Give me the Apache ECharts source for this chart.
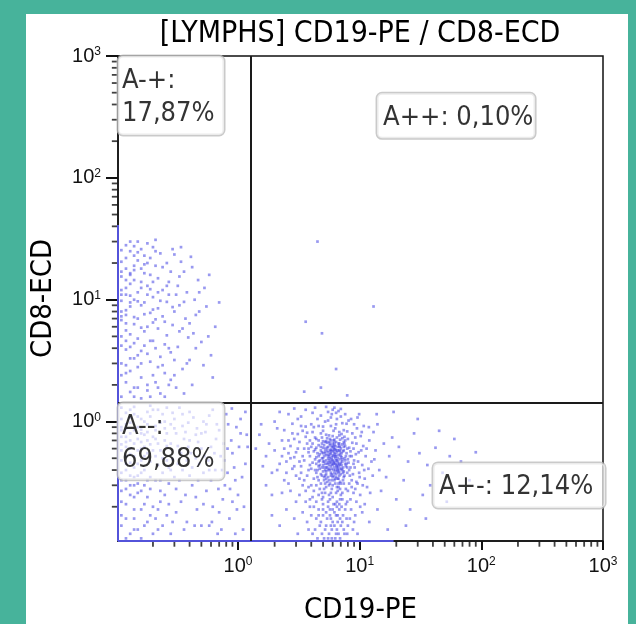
<!DOCTYPE html>
<html><head><meta charset="utf-8">
<script src="https://cdn.jsdelivr.net/npm/echarts@6/dist/echarts.min.js"></script>
<style>
html,body{margin:0;padding:0;background:#47b39b;width:636px;height:624px;overflow:hidden}
#panel{position:absolute;left:26px;top:14px;width:602px;height:610px;background:#fff}
#chart{width:602px;height:610px}
</style></head><body><div id="panel"><div id="chart"></div></div>
<script>
const titleText = '[LYMPHS] CD19-PE / CD8-ECD';
const xAxisName = 'CD19-PE';
const yAxisName = 'CD8-ECD';
const xRange = [0.1032, 1000];
const yRange = [0.1047, 1000];
const majorTicks = [1, 10, 100, 1000];
const minorTicks = [0.2,0.3,0.4,0.5,0.6,0.7,0.8,0.9,2,3,4,5,6,7,8,9,20,30,40,50,60,70,80,90,200,300,400,500,600,700,800,900];
const gateX = 1.28;
const gateY = 1.43;
const quadrantNames = ['A-+:', 'A++:', 'A--:', 'A+-:'];
const quadrantPercents = ['17,87%', '0,10%', '69,88%', '12,14%'];
const quadrantLabelAt = [[0.1032, 1000], [13.9, 494], [0.1032, 1.43], [40.1, 0.458]];

// events piled on the axis minimum (left and bottom edges)
const leftEdgeEvents = [[0.1032, 0.1047], [0.1032, 41]];
const bottomEdgeEvents = [[0.1032, 0.1047], [19, 0.1047]];

// A+- : CD19+ cluster
const bCells = [
[5.2,0.45],[6.1,0.52],[5.8,0.38],[6.6,0.41],[4.9,0.56],[7.2,0.47],[5.5,0.62],[6.3,0.34],[4.6,0.43],[7.8,0.55],[5.9,0.49],[6.8,0.36],[5.1,0.33],[6.0,0.66],[7.4,0.39],[4.4,0.51],[5.6,0.44],[6.4,0.58],[7.0,0.31],[5.3,0.69],[6.2,0.42],[4.8,0.37],[8.1,0.46],[5.7,0.54],[6.9,0.49],[5.0,0.61],[6.5,0.29],[7.6,0.63],[4.5,0.40],[5.4,0.32],[6.7,0.53],[5.8,0.70],[7.1,0.44],[4.7,0.48],[6.0,0.35],[5.2,0.57],[6.3,0.63],[7.9,0.38],[5.6,0.30],[6.6,0.45],[4.9,0.42],[7.3,0.57],[5.5,0.50],[6.1,0.40],[4.3,0.59],[5.9,0.33],[6.8,0.66],[5.0,0.47],[7.5,0.50],[6.2,0.55],[5.3,0.39],[4.6,0.64],[6.4,0.37],[7.0,0.60],[5.7,0.46],[6.9,0.32],[5.1,0.52],[8.3,0.52],[6.0,0.44],[5.4,0.67],[6.5,0.48],[4.8,0.31],[7.7,0.43],[5.8,0.59],[6.6,0.34],[5.2,0.36],[7.2,0.65],[4.4,0.45],[6.3,0.50],[5.6,0.41],[6.1,0.61],[7.4,0.35],[5.0,0.39],[6.7,0.43],[5.5,0.56],[4.7,0.54],[6.4,0.68],[7.1,0.51],[5.9,0.37],[6.2,0.46],[5.3,0.48],[6.8,0.58],[4.5,0.35],[7.9,0.60],[5.7,0.64],[6.5,0.39],[5.1,0.42],[6.0,0.30],[7.3,0.42],[5.4,0.45],[6.9,0.54],[4.9,0.66],[5.8,0.43],[6.3,0.40],[7.6,0.48],[5.2,0.60],[6.6,0.62],[4.6,0.47],[5.5,0.35],[6.1,0.57],[7.0,0.37],[5.9,0.51],[6.7,0.31],[5.0,0.55],[6.4,0.44],[5.6,0.68],[7.2,0.40],[4.8,0.58],[6.2,0.33],[5.3,0.53],[6.0,0.48],[7.8,0.45],[5.7,0.40],[6.5,0.56],[4.4,0.38],[6.8,0.45],[5.1,0.64],[5.8,0.47],[6.3,0.59],[7.4,0.62],[5.4,0.42],[6.9,0.41],[4.7,0.41],[6.1,0.36],[5.6,0.52],[7.1,0.55],[6.6,0.50],[5.2,0.40],[5.9,0.62],[6.4,0.52],[4.9,0.50],[7.5,0.36],[5.5,0.46],[6.2,0.67],[6.7,0.38],[5.0,0.44],[6.0,0.58],[5.3,0.34],[7.0,0.46],[5.8,0.55],[6.5,0.43],[4.6,0.52],[6.9,0.62],[5.7,0.50],[6.3,0.45],
[3.4,0.52],[3.9,0.44],[3.1,0.60],[2.8,0.41],[3.6,0.75],[4.1,0.82],[2.6,0.55],[3.3,0.38],[4.0,0.30],[3.7,0.66],[2.9,0.72],[3.2,0.47],[4.2,0.90],[3.5,0.33],[2.7,0.63],[3.8,0.56],[3.0,0.36],[4.3,0.74],[3.4,0.84],[2.5,0.47],[3.6,0.27],[3.1,0.79],[4.0,0.62],[2.9,0.51],[3.8,0.40],[9.0,0.48],[9.8,0.56],[8.8,0.37],[10.5,0.44],[9.4,0.66],[11.2,0.52],[8.6,0.29],[10.0,0.35],[9.2,0.74],[11.8,0.41],[8.9,0.60],[10.7,0.63],[9.6,0.31],[12.5,0.47],[8.7,0.80],[10.2,0.76],[9.1,0.42],[11.0,0.34],[5.3,0.78],[6.1,0.84],[5.8,0.92],[6.8,0.77],[7.4,0.85],[4.8,0.80],[5.5,1.02],[6.4,0.95],[7.0,1.10],[5.0,0.91],[6.7,1.22],[5.9,1.15],[7.8,0.96],[4.5,1.05],[6.2,1.30],[8.0,0.72],[7.5,0.75],[4.6,0.25],[5.2,0.26],[6.0,0.24],[6.6,0.27],[7.2,0.26],[5.5,0.22],[6.3,0.21],[4.9,0.23],[7.7,0.28],[5.8,0.26],[6.9,0.23],[5.1,0.28],[8.2,0.31],[4.2,0.27],[3.6,0.91],[2.4,0.85],[3.3,1.10],[2.8,0.96],[4.1,1.18],[3.9,0.23],[3.2,0.25],[2.6,0.31],[9.5,0.88],[10.8,0.92],[8.5,1.05],[9.9,1.15],[12.0,0.70],[11.5,0.29],[10.1,0.25],[8.4,0.23],[2.2,0.45],[2.0,0.58],[2.3,0.70],[1.9,0.38],[2.1,0.88],[1.7,0.52],[1.8,0.66],[2.4,0.33],[1.6,0.43],[1.5,0.78],[2.0,1.00],[1.4,0.60],[1.7,0.30],[2.2,1.20],[1.55,0.95],[1.9,0.25],[13.5,0.58],[14.5,0.40],[15.8,0.66],[13.0,0.82],[16.5,0.35],[14.0,0.95],[17.5,0.52],[15.0,0.27],[13.8,1.15],[18.5,0.74],
[5.5,0.20],[6.2,0.18],[5.0,0.17],[6.8,0.19],[5.8,0.16],[4.6,0.19],[7.3,0.17],[6.0,0.15],[5.3,0.14],[6.5,0.13],[4.8,0.15],[7.0,0.14],[5.6,0.12],[6.3,0.11],[4.3,0.13],[7.8,0.16],[5.1,0.11],[6.7,0.12],[5.9,0.13],[4.0,0.17],[8.5,0.19],[3.7,0.15],[7.5,0.12],[6.1,0.21],[5.4,0.16],[4.5,0.11],[6.9,0.16],[5.7,0.19],[8.0,0.14],[3.9,0.20],[9.2,0.17],[4.1,0.12],[6.4,0.17],[5.2,0.13],[7.1,0.20],[3.4,0.18],[8.8,0.13],[5.0,0.21],[6.6,0.15],[4.7,0.14],[2.9,0.16],[10.5,0.18],[3.1,0.12],[9.6,0.12],[2.5,0.19],[12.0,0.15],[2.2,0.14],[11.0,0.21],[1.9,0.17],[14.0,0.19],
[21,0.62],[25,0.47],[31,0.55],[23,0.33],[28,0.80],[36,0.44],[19,1.20],[42,0.61],[33,0.25],[48,0.38],[26,0.19],[55,0.52],[38,0.30],[68,0.47],[20,0.23],[45,0.84],[80,0.33],[30,1.05],[24,0.14],[60,0.72],[90,0.56],[17,0.13],[52,0.22],[35,0.16],
[4.4,0.72],[5.0,0.84],[5.6,0.77],[6.3,0.88],[7.1,0.79],[7.9,0.83],[4.1,0.66],[3.8,0.60],[3.5,0.48],[3.3,0.43],[3.7,0.36],[4.0,0.41],[4.2,0.34],[3.9,0.52],[4.3,0.49],[8.6,0.52],[8.4,0.42],[8.9,0.45],[9.3,0.54],[8.2,0.61],[8.7,0.67],[9.7,0.47],[10.3,0.58],[7.6,0.70],[7.2,0.73],[6.9,0.71],[6.5,0.74],[6.0,0.76],[5.4,0.73],[4.9,0.74],[4.6,0.70],[5.2,0.68],[5.7,0.72],[6.2,0.71],[6.8,0.82],[7.4,0.68],[4.0,0.95],[4.6,0.92],[5.2,1.00],[5.8,1.08],[6.5,1.05],[7.2,0.97],[8.1,1.02],[5.5,1.20],[6.0,1.25],[7.0,1.27],[4.8,1.12],[5.3,1.32],[6.4,1.18],[7.6,1.15],[3.4,0.30],[3.8,0.29],[4.4,0.30],[4.1,0.24],[4.7,0.28],[5.3,0.29],[5.9,0.28],[6.7,0.29],[7.4,0.31],[8.0,0.27],[8.6,0.33],[9.2,0.28],[7.0,0.25],[6.4,0.26],[5.6,0.25],[4.9,0.26],[4.4,0.22],[5.0,0.24],[5.7,0.23],[6.5,0.22],[7.2,0.23],[7.9,0.22],[3.6,0.22],[3.2,0.34],[2.9,0.43],[2.7,0.50],[3.0,0.56],[3.2,0.68],[2.8,0.80],[2.6,0.70],[2.4,0.60],[2.5,0.38],[2.3,0.52],[2.1,0.40],[2.7,0.27],[2.3,0.26],[3.0,0.22],[3.5,0.60],[3.7,0.81],[3.3,0.92],[3.1,1.05],[2.6,1.15],[2.9,1.28],[3.6,1.25],[4.3,1.30],[9.0,0.95],[9.6,1.08],[10.4,0.82],[11.4,0.60],[11.9,0.90],[10.9,0.40],[12.8,0.36],[13.2,0.49],[12.2,0.26],[10.6,0.30],[9.9,0.38],[9.4,0.32],[8.3,0.36],[8.9,0.26],[9.4,0.22],[10.1,0.20],[5.1,0.35],[5.6,0.33],[6.2,0.38],[6.7,0.34],[7.3,0.33],[5.3,0.42],[5.9,0.41],[6.5,0.42],[7.1,0.41],[5.0,0.50],[5.5,0.53],[6.1,0.47],[6.6,0.47],[7.2,0.49],[5.2,0.55],[5.8,0.57],[6.3,0.54],[6.9,0.57],[5.4,0.61],[6.0,0.63],[6.6,0.58],[5.7,0.66],[6.2,0.64],[6.8,0.63],[4.7,0.44],[4.5,0.55],[4.8,0.62],[7.6,0.45],[7.7,0.52],[7.4,0.58],[7.9,0.42],[8.0,0.49],[4.4,0.61],[4.3,0.40],[5.8,0.36],[6.4,0.35],[5.3,0.37],[6.1,0.45],[6.9,0.44],[5.6,0.48],[6.3,0.52],[5.5,0.40],[6.6,0.40],[6.0,0.53],[5.1,0.47],[7.0,0.52],[6.8,0.39],[5.9,0.45],[6.4,0.48],[5.7,0.58],[6.2,0.60],[7.3,0.38],[4.9,0.36],[5.4,0.58],[6.7,0.66],[6.1,0.70],[5.0,0.69],[7.5,0.66],[4.6,0.33],[5.7,0.31],[6.3,0.31],[6.9,0.28],[5.2,0.31],[4.2,0.57],[8.4,0.57],[8.2,0.40],[3.9,0.70],[4.1,0.46],
[6.0,0.19],[6.6,0.17],[5.3,0.18],[7.6,0.19],[5.8,0.14],[6.4,0.12],[7.2,0.15],[4.9,0.12],[5.5,0.11],[6.9,0.11],[5.0,0.19],[7.9,0.12],[4.4,0.16],[6.2,0.14],[5.7,0.17],[8.3,0.16],[3.8,0.13],[7.4,0.13],[4.6,0.17],[6.8,0.21],[5.9,0.11],[9.0,0.15],[4.2,0.20],[6.5,0.20],[7.7,0.21]
];

// A-- : double negative
const doubleNeg = [
[0.12,0.95],[0.15,1.10],[0.18,0.82],[0.13,0.70],[0.22,1.25],[0.16,0.60],[0.11,1.30],[0.25,0.88],[0.14,0.52],[0.20,0.75],[0.12,0.45],[0.30,1.05],[0.17,0.40],[0.28,0.66],[0.11,0.58],[0.19,1.35],[0.35,0.92],[0.13,0.36],[0.24,0.50],[0.16,0.86],[0.40,1.20],[0.21,0.33],[0.12,0.28],[0.33,0.58],[0.15,0.31],[0.27,0.42],[0.11,0.22],[0.45,0.78],[0.18,0.24],[0.14,0.19],[0.23,0.27],[0.38,0.48],[0.12,0.16],[0.30,0.35],[0.17,0.14],[0.52,1.00],[0.20,0.20],[0.13,0.12],[0.26,0.17],[0.42,0.30],[0.16,0.11],[0.60,0.62],[0.22,0.13],[0.34,0.22],[0.11,0.14],[0.48,0.45],[0.28,0.12],[0.70,0.85],[0.19,0.17],[0.55,0.27],[0.14,0.24],[0.38,0.15],[0.80,1.15],[0.24,0.38],[0.65,0.40],[0.12,0.40],[0.31,0.28],[0.90,0.55],[0.18,0.55],[0.46,0.19],[0.15,0.45],[0.75,0.23],[0.26,0.63],[1.05,0.80],[0.21,0.92],[0.58,0.14],[0.13,0.80],[0.36,0.72],[0.95,0.33],[0.17,1.00],[0.50,0.60],[0.29,1.18],[0.85,0.16],[0.11,0.38],[0.43,1.08],[0.62,0.20],[0.16,0.68],[0.32,0.45],[1.15,0.45],[0.23,0.58],[0.72,0.52],[0.14,1.15],[0.40,0.36],[1.00,0.25],[0.19,0.47],[0.55,0.95],[0.27,0.21],[0.13,0.54],[0.68,0.12],[0.21,0.72],[0.88,0.70],[0.15,0.26],[0.36,0.13],[1.10,0.13],[0.18,0.33],[0.47,0.68],[0.12,0.62],[0.78,0.30],[0.24,0.14],[0.33,1.30],[0.62,1.25],[0.11,1.05],[0.17,0.21],[0.52,0.38],[0.25,1.00],[0.93,0.42],[0.14,0.16],[0.41,0.55],[0.20,0.12],[0.70,0.18],[0.12,0.88],[0.29,0.49],[1.20,0.62],[0.16,0.38],[0.57,0.48],[0.22,0.44],[0.83,0.95],[0.13,0.25],[0.37,0.82],[0.19,0.65],[0.66,0.72],[0.15,0.13],[0.45,0.24],[0.27,0.31],[1.05,1.05],[0.11,0.48],[0.31,0.18],[0.74,0.40],[0.18,1.20],[0.50,0.14],[0.23,0.22],[0.14,0.66],[0.98,0.19],[0.39,0.62],[0.12,0.33],[0.60,0.33],[0.21,0.52],[0.16,0.19],[0.35,0.40],[0.82,0.60],[0.13,1.25],[0.26,0.80],[0.54,0.82],[0.17,0.30],
[0.11,0.75],[0.12,1.18],[0.13,0.98],[0.14,0.85],[0.11,0.90],[0.15,0.72],[0.16,1.05],[0.17,0.78],[0.12,0.68],[0.14,1.32],[0.18,0.95],[0.19,1.10],[0.21,0.85],[0.20,1.25],[0.23,0.98],[0.24,1.15],[0.22,0.66],[0.26,1.30],[0.28,0.95],[0.31,0.80],[0.13,0.60],[0.15,0.90],[0.11,0.65],[0.12,0.52],[0.16,0.48],[0.18,0.70],[0.20,0.58],[0.14,0.42],[0.11,0.33],[0.13,0.46],[0.17,0.62],[0.19,0.35],[0.12,0.21],[0.15,0.36],[0.11,0.17],[0.13,0.30],[0.16,0.27],[0.14,0.35],[0.11,0.27],[0.12,0.11],[0.14,0.13],[0.18,0.15],[0.21,0.16],[0.25,0.25],[0.29,0.15],[0.33,0.33],[0.37,0.25],[0.42,0.42],[0.47,0.33],[0.53,0.52],[0.58,0.40],[0.64,0.55],[0.69,0.28],[0.76,0.66],[0.82,0.38],[0.90,0.22],[0.97,0.90],[1.08,0.35],[1.18,0.78],[0.44,0.14],[0.52,0.21],[0.61,0.15],[0.73,0.13],[0.86,0.28],[0.95,0.12],[1.12,0.20],[0.39,0.98],[0.46,0.88],[0.58,1.12],[0.67,0.95],[0.77,0.48],[0.89,1.28],[1.02,0.62],[1.15,1.20],[0.34,0.55],[0.28,0.40],[0.32,0.63],[0.25,0.70],[0.30,0.88],[0.35,1.15],[0.40,0.70],[0.45,0.50],[0.50,0.80],[0.23,0.33],[0.26,0.48],[0.19,0.28],[0.22,0.19],[0.17,0.52],[0.15,0.58],[0.12,0.75],[0.14,0.30],[0.16,0.80],[0.11,0.85],[0.13,1.08]
];

// A-+ : CD8+ cells
const cd8Cells = [
[0.12,2.1],[0.15,3.5],[0.18,1.8],[0.13,5.2],[0.22,2.8],[0.11,8.0],[0.16,12.5],[0.25,4.3],[0.14,1.6],[0.20,6.5],[0.12,18.0],[0.30,2.4],[0.17,9.5],[0.13,25.0],[0.27,14.0],[0.11,3.0],[0.19,22.0],[0.35,5.8],[0.14,7.2],[0.23,1.7],[0.15,30.0],[0.40,3.2],[0.12,11.0],[0.21,4.0],[0.16,2.3],[0.33,9.0],[0.11,15.5],[0.26,20.0],[0.18,6.0],[0.13,2.6],[0.45,7.5],[0.24,12.0],[0.12,4.6],[0.31,1.9],[0.17,16.5],[0.14,10.0],[0.38,11.5],[0.20,27.0],[0.11,6.8],[0.28,3.7],[0.15,4.8],[0.50,4.5],[0.22,8.5],[0.13,13.5],[0.36,17.0],[0.19,3.1],[0.12,28.0],[0.29,6.2],[0.16,1.55],[0.42,2.0],[0.23,24.0],[0.14,19.0],[0.55,8.8],[0.18,13.0],[0.11,2.4],[0.32,13.0],[0.21,2.1],[0.13,8.8],[0.26,5.1],[0.15,21.0],[0.47,14.5],[0.19,7.8],[0.12,3.9],[0.35,2.7],[0.17,4.2],[0.24,18.5],[0.13,16.0],[0.60,3.5],[0.20,10.5],[0.11,12.0],[0.30,8.0],[0.16,26.0],[0.39,4.9],[0.14,3.3],[0.22,15.0],[0.12,5.6],[0.27,11.0],[0.18,2.0],[0.44,10.0],[0.15,7.0],[0.25,2.5],[0.11,20.5],[0.34,20.5],[0.17,5.5],[0.13,1.75],[0.21,31.0],[0.52,2.9],[0.16,9.0],[0.29,26.0],[0.12,14.5],[0.37,7.0],[0.19,16.0],[0.14,6.3],[0.23,3.4],[0.65,6.0],[0.15,11.5],[0.28,2.2],[0.11,4.2],[0.41,22.5],[0.20,4.6],[0.13,10.8],[0.32,4.1],[0.17,19.5],[0.24,7.3],[0.12,7.5],[0.48,11.5],[0.16,3.0],[0.36,1.7],[0.22,5.8],[0.14,23.0],[0.58,16.0],[0.18,29.0],[0.11,9.8],[0.26,9.6],[0.15,1.9],[0.33,15.5],[0.19,12.2],[0.12,2.9],[0.43,5.3],[0.21,19.0],[0.13,4.1],[0.30,23.5],[0.16,14.0],[0.70,9.5],[0.25,1.6],[0.14,17.5],
[0.11,1.6],[0.12,2.5],[0.13,3.3],[0.11,5.0],[0.12,6.4],[0.14,4.4],[0.11,7.3],[0.13,9.5],[0.12,12.5],[0.11,17.0],[0.14,14.5],[0.12,22.0],[0.13,30.0],[0.11,25.5],[0.15,2.8],[0.16,5.9],[0.17,7.6],[0.15,9.7],[0.18,11.0],[0.16,18.0],[0.17,23.0],[0.19,4.6],[0.18,3.6],[0.20,2.4],[0.21,6.9],[0.22,11.5],[0.20,14.0],[0.23,9.8],[0.21,25.0],[0.24,2.9],[0.25,6.6],[0.26,13.0],[0.27,4.0],[0.28,17.0],[0.29,8.7],[0.30,3.2],[0.31,11.0],[0.33,5.5],[0.34,27.0],[0.36,9.6],[0.38,3.0],[0.40,6.4],[0.42,18.5],[0.45,4.0],[0.48,8.0],[0.53,12.5],[0.57,5.0],[0.62,2.3],[0.14,1.9],[0.19,1.6],[0.13,16.5],[0.15,24.5],[0.18,20.0],[0.12,8.2],[0.16,3.8],[0.22,1.9],[0.27,2.0],[0.11,11.0],[0.14,27.5],[0.20,8.3]
];

// A++ : double positive
const doublePos = [[4.5,30],[3.6,6.6],[4.9,5.3],[13,8.8],[6.4,2.7],[3.5,1.76],[4.8,1.9],[7.9,1.64]];

const dotColor = 'rgba(66,66,228,0.68)';
const labelFont = '"DejaVu Sans Condensed", "DejaVu Sans", sans-serif';
const tickFont = '"Liberation Sans Narrow", "Liberation Sans", sans-serif';
const ink = '#000';
const axisInk = '#111';

function expLabel(v) {
  const e = Math.round(Math.log10(v));
  return '{b|10}{s|' + e + '}';
}
const tickRich = {
  b: { fontFamily: tickFont, fontSize: 20, color: '#111', lineHeight: 20 },
  s: { fontFamily: tickFont, fontSize: 12, color: '#111', verticalAlign: 'top', lineHeight: 12 }
};

const chart = echarts.init(document.getElementById('chart'), null, { renderer: 'canvas' });

function scatter(name, data) {
  return {
    name, type: 'scatter', data, symbol: 'rect', symbolSize: 2.7,
    itemStyle: { color: dotColor }, z: 2, silent: true
  };
}

const labelSpecs = [
  { width: 98, padding: [8, 4, 5, 4], lineHeight: 33, two: true },
  { width: 146, padding: [8, 6, 4, 6], lineHeight: 33, two: false },
  { width: 98, padding: [8, 4, 3, 4], lineHeight: 33, two: true },
  { width: 160, padding: [8, 6, 4, 6], lineHeight: 33, two: false }
];
const labelData = quadrantLabelAt.map((p, i) => ({
  value: p, idx: i,
  label: { width: labelSpecs[i].width, padding: labelSpecs[i].padding, lineHeight: labelSpecs[i].lineHeight }
}));

// minor ticks drawn as short marks at the axis edges, positioned by the log scales
const xMinorTickData = minorTicks.map(v => [v, yRange[0]]);
const yMinorTickData = minorTicks.map(v => [xRange[0], v]);

chart.setOption({
  animation: false,
  grid: { left: 92, top: 42, width: 485, height: 485, show: true, borderColor: axisInk, borderWidth: 1.5,
          backgroundColor: 'transparent', containLabel: false, outerBoundsMode: 'none' },
  graphic: [{
    type: 'text', x: 334, y: 5, z: 10,
    style: { text: titleText, font: '30px ' + labelFont, fill: ink, textAlign: 'center', textVerticalAlign: 'top' }
  }],
  xAxis: {
    type: 'log', logBase: 10, min: xRange[0], max: xRange[1], position: 'bottom',
    name: xAxisName, nameLocation: 'middle', nameGap: 55,
    nameTextStyle: { fontFamily: labelFont, fontSize: 29, color: ink },
    axisLine: { show: true, lineStyle: { color: axisInk, width: 1.5 } },
    axisTick: { show: true, length: 9, customValues: majorTicks, lineStyle: { color: axisInk, width: 2 } },
    axisLabel: { customValues: majorTicks, formatter: expLabel, rich: tickRich, margin: 15 },
    splitLine: { show: false }, minorTick: { show: false }
  },
  yAxis: {
    type: 'log', logBase: 10, min: yRange[0], max: yRange[1], position: 'left',
    name: yAxisName, nameLocation: 'middle', nameGap: 60, nameRotate: 90,
    nameTextStyle: { fontFamily: labelFont, fontSize: 29, color: ink },
    axisLine: { show: true, lineStyle: { color: axisInk, width: 1.5 } },
    axisTick: { show: true, length: 12, customValues: majorTicks, lineStyle: { color: axisInk, width: 2 } },
    axisLabel: { customValues: majorTicks, formatter: expLabel, rich: tickRich, margin: 17 },
    splitLine: { show: false }
  },
  series: [
    scatter('A--', doubleNeg),
    scatter('A-+', cd8Cells),
    scatter('A+-', bCells),
    scatter('A++', doublePos),
    { name: 'left edge', type: 'line', data: leftEdgeEvents, showSymbol: false, clip: false, silent: true,
      lineStyle: { color: 'rgba(90,90,240,0.9)', width: 2 }, z: 3 },
    { name: 'bottom edge', type: 'line', data: bottomEdgeEvents, showSymbol: false, clip: false, silent: true,
      lineStyle: { color: 'rgba(90,90,240,0.9)', width: 2 }, z: 3 },
    { name: 'x minor ticks', type: 'scatter', data: xMinorTickData, clip: false, silent: true, z: 1,
      symbol: 'rect', symbolSize: [1.8, 5], symbolOffset: [0, 3.2], itemStyle: { color: axisInk } },
    { name: 'y minor ticks', type: 'scatter', data: yMinorTickData, clip: false, silent: true, z: 1,
      symbol: 'rect', symbolSize: [5.5, 1.8], symbolOffset: [-3.4, 0], itemStyle: { color: axisInk } },
    { name: 'gates', type: 'scatter', data: [], z: 4, silent: true,
      markLine: { silent: true, symbol: 'none', animation: false, label: { show: false },
        lineStyle: { color: '#1a1a1a', width: 2, type: 'solid' },
        data: [{ xAxis: gateX }, { yAxis: gateY }] } },
    { name: 'quadrant labels', type: 'scatter', data: labelData, symbolSize: 0.01, clip: false, silent: true, z: 6,
      itemStyle: { color: 'transparent' },
      label: {
        show: true, position: [0, 0], align: 'left', verticalAlign: 'top',
        formatter: p => {
          const i = p.data.idx;
          return labelSpecs[i].two ? quadrantNames[i] + '\n' + quadrantPercents[i] : quadrantNames[i] + ' ' + quadrantPercents[i];
        },
        fontFamily: labelFont, fontSize: 27, color: ink,
        backgroundColor: 'rgba(255,255,255,0.8)', borderColor: '#bdbdbd', borderWidth: 1.5, borderRadius: 5
      }
    }
  ]
});
</script></body></html>
